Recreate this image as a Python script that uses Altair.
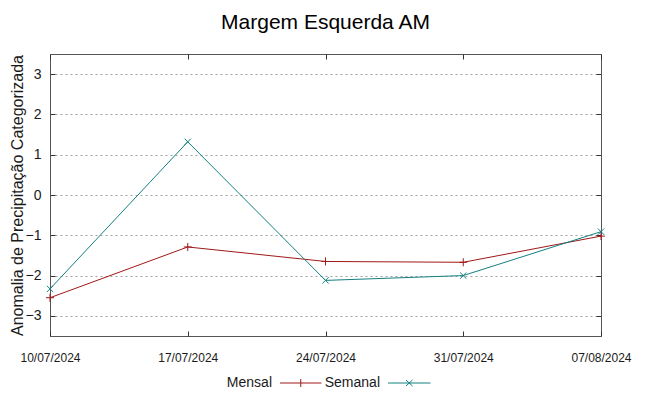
import altair as alt
import pandas as pd

dates = ["10/07/2024", "17/07/2024", "24/07/2024", "31/07/2024", "07/08/2024"]
mensal = [-2.55, -1.29, -1.65, -1.67, -1.02]
semanal = [-2.33, 1.32, -2.12, -2.00, -0.91]
series = ["Mensal", "Semanal"]
colors = ["#a01818", "#138080"]
y_ticks = [-3, -2, -1, 0, 1, 2, 3]

rows = []
for d, m, s in zip(dates, mensal, semanal):
    rows.append({"data": d, "serie": "Mensal", "valor": m})
    rows.append({"data": d, "serie": "Semanal", "valor": s})
df = pd.DataFrame(rows)

FONT = "Liberation Sans"
TXT = "#1a1a1a"

xs = alt.Scale(type="point", padding=0, domain=dates)
ys = alt.Scale(domain=[-3.5, 3.5], nice=False, zero=False)

x_main = alt.X("data:N", scale=xs, sort=dates, title=None,
               axis=alt.Axis(labelFont=FONT, labelFontSize=12, labelColor=TXT,
                             labelAngle=0, labelPadding=16, ticks=False,
                             domain=False, grid=False, labelOverlap=False,
                             labelFlush=False))
y_main = alt.Y("valor:Q", scale=ys,
               title="Anomalia de Precipitação Categorizada",
               axis=alt.Axis(values=y_ticks, labelFont=FONT, labelFontSize=14,
                             labelColor=TXT, labelPadding=9, ticks=False,
                             domain=False, grid=True, gridDash=[2, 3],
                             gridColor="#a0a0a0", gridWidth=1,
                             titleFont=FONT, titleFontSize=16,
                             titleFontWeight="normal", titlePadding=0,
                             titleColor=TXT))
x_none = alt.X("data:N", scale=xs, sort=dates, axis=None)
y_none = alt.Y("valor:Q", scale=ys, axis=None)

base = alt.Chart(df)

line_m = base.transform_filter(alt.datum.serie == "Mensal").mark_line(
    color=colors[0], strokeWidth=1).encode(x=x_main, y=y_main)
line_s = base.transform_filter(alt.datum.serie == "Semanal").mark_line(
    color=colors[1], strokeWidth=1).encode(x=x_none, y=y_none)

plus_path = "M-1,0L1,0M0,-1L0,1"
x_path = "M-1,-1L1,1M-1,1L1,-1"
pts_m = base.transform_filter(alt.datum.serie == "Mensal").mark_point(
    shape=plus_path, filled=False, size=64, strokeWidth=1, color=colors[0],
    opacity=1).encode(x=x_none, y=y_none)
pts_s = base.transform_filter(alt.datum.serie == "Semanal").mark_point(
    shape=x_path, filled=False, size=40, strokeWidth=1, color=colors[1],
    opacity=1).encode(x=x_none, y=y_none)


def tick_axis(orient_x, orient_y):
    ax = alt.Axis(orient=orient_x, offset=-5, tickSize=5, ticks=True,
                  labels=False, domain=False, grid=False, title=None,
                  tickColor="#333333", tickWidth=1)
    ay = alt.Axis(orient=orient_y, offset=-5, tickSize=5, ticks=True,
                  labels=False, domain=False, grid=False, title=None,
                  values=y_ticks, tickColor="#333333", tickWidth=1)
    return base.mark_line(opacity=0).encode(
        x=alt.X("data:N", scale=xs, sort=dates, axis=ax),
        y=alt.Y("valor:Q", scale=ys, axis=ay),
        detail="serie:N")


ticks_bl = tick_axis("bottom", "left")
ticks_tr = tick_axis("top", "right")

legend_paths = [
    "M-1,0L7.3,0M3.15,-0.8L3.15,0.8",
    "M-1,0L7.5,0M2.6,-0.6L3.9,0.6M2.6,0.6L3.9,-0.6",
]
leg_params = dict(orient="none", legendX=228, legendY=322,
                  direction="horizontal", title=None, labelFont=FONT,
                  labelFontSize=14, labelColor=TXT, labelAlign="right",
                  labelOffset={"expr": "-20"}, symbolSize=100,
                  symbolStrokeWidth=1, columnPadding=0, padding=0,
                  labelBaseline="middle")
leg = base.transform_filter("false").mark_point(
    filled=False, strokeWidth=1, opacity=1).encode(
    color=alt.Color("serie:N", scale=alt.Scale(domain=series, range=colors),
                    legend=alt.Legend(**leg_params)),
    shape=alt.Shape("serie:N", scale=alt.Scale(domain=series, range=legend_paths),
                    legend=alt.Legend(**leg_params)),
)

chart = alt.layer(line_m, line_s, pts_m, pts_s, ticks_bl, ticks_tr, leg).resolve_axis(
    x="independent", y="independent"
).properties(
    width=551, height=282,
    title=alt.TitleParams("Margem Esquerda AM", font=FONT, fontSize=21,
                          fontWeight="normal", anchor="middle", offset=21,
                          color="black"),
    autosize=alt.AutoSizeParams(type="none"),
    padding={"left": 42, "top": 46, "right": 40, "bottom": 52},
).configure_view(stroke="#555555", strokeWidth=1)

chart.save("out.html", embed_options={"renderer": "svg", "actions": False})
